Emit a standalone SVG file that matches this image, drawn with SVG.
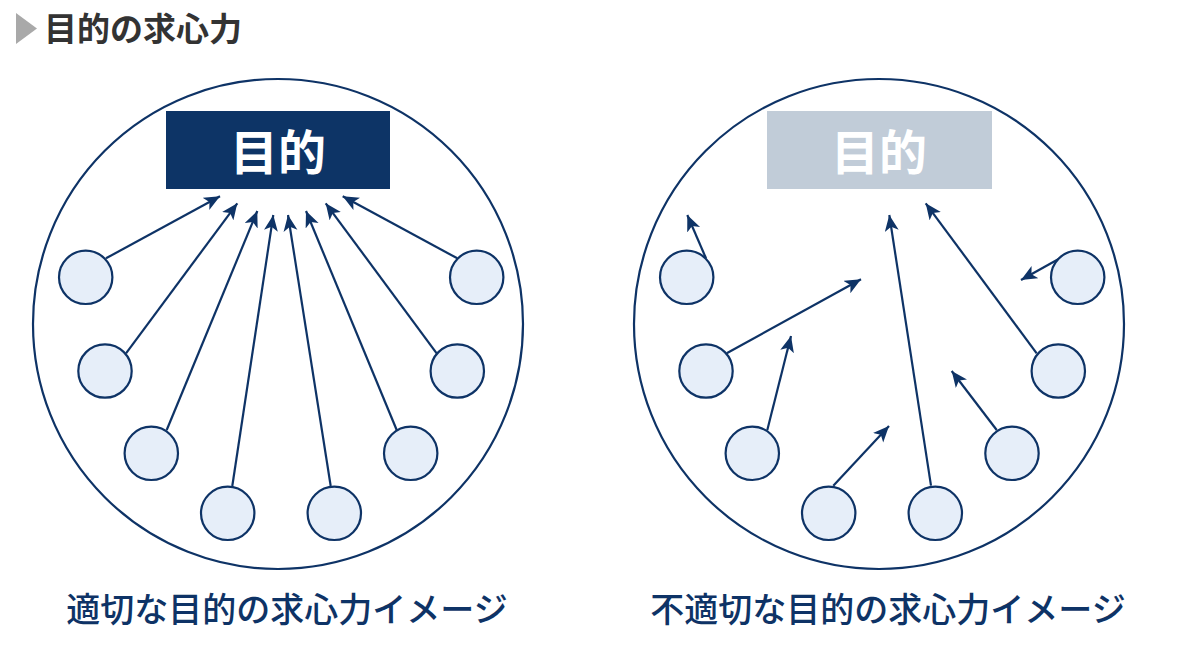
<svg xmlns="http://www.w3.org/2000/svg" width="1200" height="651" viewBox="0 0 1200 651">
<style>
.big{fill:#fff;stroke:#0e3366;stroke-width:2.2}
.node{fill:#e6eef9;stroke:#0e3366;stroke-width:2.2}
.c{stroke:#0e3366;stroke-width:2.2;fill:none;marker-end:url(#ah)}
.lbl{font-family:"Noto Sans CJK JP","Noto Sans CJK SC",sans-serif;font-weight:bold}
.cap{font-family:"Noto Sans CJK JP","Noto Sans CJK SC",sans-serif;font-weight:500}
</style>
<defs>
<marker id="ah" markerUnits="userSpaceOnUse" markerWidth="18" markerHeight="15" refX="16" refY="7" orient="auto">
<path d="M0,0 L16,7 L0,14 L4,7 z" fill="#0e3366"/>
</marker>
</defs>
<rect width="1200" height="651" fill="#fff"/>
<g id="title">
<polygon points="16,13 37,28.5 16,44" fill="#a9a9a9"/>
<text x="44" y="41" class="lbl" font-size="33" fill="#333">目的の求心力</text>
</g>
<g id="left-frame"><circle class="big" cx="278" cy="324" r="245"/></g>
<g id="right-frame"><circle class="big" cx="879" cy="324" r="245"/></g>
<g id="left-goal">
<rect x="166" y="111" width="224" height="78" fill="#0d3466"/>
<text x="278" y="170" class="lbl" font-size="48" fill="#fff" text-anchor="middle">目的</text>
</g>
<g id="right-goal">
<rect x="767" y="111" width="225" height="78" fill="#c1ccd8"/>
<text x="879" y="170" class="lbl" font-size="48" fill="#fff" text-anchor="middle">目的</text>
</g>
<g id="connectors">
<line class="c" x1="106" y1="258.3" x2="220" y2="196.3"/>
<line class="c" x1="126" y1="353.3" x2="237.3" y2="203.3"/>
<line class="c" x1="166.7" y1="430" x2="257.3" y2="211"/>
<line class="c" x1="232.3" y1="486" x2="273.3" y2="215"/>
<line class="c" x1="330.7" y1="486" x2="288" y2="215"/>
<line class="c" x1="396.7" y1="430" x2="306" y2="211"/>
<line class="c" x1="436.7" y1="353.3" x2="325.7" y2="203.3"/>
<line class="c" x1="457.3" y1="258.3" x2="342.7" y2="196.3"/>
<line class="c" x1="706" y1="258.3" x2="687.3" y2="215"/>
<line class="c" x1="726.7" y1="353.3" x2="861" y2="279.3"/>
<line class="c" x1="767.3" y1="430" x2="791" y2="336"/>
<line class="c" x1="833.3" y1="485.7" x2="889" y2="426"/>
<line class="c" x1="931" y1="485.7" x2="889.3" y2="215"/>
<line class="c" x1="996.7" y1="430" x2="951.7" y2="371"/>
<line class="c" x1="1036.7" y1="353.3" x2="925.7" y2="203.3"/>
<line class="c" x1="1060" y1="258.3" x2="1021" y2="280"/>
</g>
<g id="left-nodes">
<circle id="l1" class="node" cx="85.7" cy="277.3" r="26.7"/>
<circle id="l2" class="node" cx="105" cy="371" r="26.7"/>
<circle id="l3" class="node" cx="151.3" cy="453.3" r="26.7"/>
<circle id="l4" class="node" cx="227.7" cy="513.3" r="26.7"/>
<circle id="l5" class="node" cx="334.3" cy="513.3" r="26.7"/>
<circle id="l6" class="node" cx="410.7" cy="453.3" r="26.7"/>
<circle id="l7" class="node" cx="457.3" cy="371" r="26.7"/>
<circle id="l8" class="node" cx="476.7" cy="277.3" r="26.7"/>
</g>
<g id="right-nodes">
<circle id="r1" class="node" cx="686.7" cy="277.3" r="26.7"/>
<circle id="r2" class="node" cx="706" cy="371" r="26.7"/>
<circle id="r3" class="node" cx="752.3" cy="453.3" r="26.7"/>
<circle id="r4" class="node" cx="828.7" cy="513.3" r="26.7"/>
<circle id="r5" class="node" cx="935.3" cy="513.3" r="26.7"/>
<circle id="r6" class="node" cx="1012" cy="453.3" r="26.7"/>
<circle id="r7" class="node" cx="1058.3" cy="371" r="26.7"/>
<circle id="r8" class="node" cx="1077.7" cy="277.3" r="26.7"/>
</g>
<g id="captions">
<text x="287" y="622" class="cap" font-size="34" fill="#0e3366" text-anchor="middle">適切な目的の求心力イメージ</text>
<text x="888" y="622" class="cap" font-size="34" fill="#0e3366" text-anchor="middle">不適切な目的の求心力イメージ</text>
</g>
</svg>
